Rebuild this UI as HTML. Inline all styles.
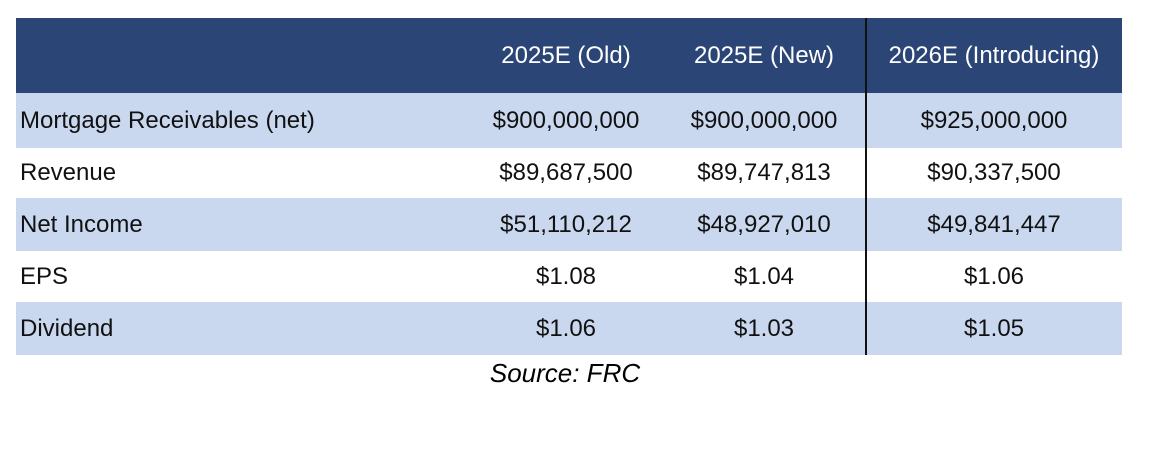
<!DOCTYPE html>
<html><head><meta charset="utf-8"><style>
body{margin:0;width:1176px;height:450px;background:#fff;position:relative;font-family:"Liberation Sans",Arial,sans-serif;overflow:hidden}
.r{position:absolute;left:16px;width:1106px}
.c{position:absolute;top:0;height:100%;display:flex;align-items:center;font-size:24px;color:#111;white-space:nowrap}
.hd .c{color:#fff}
.l{left:4px}
.m1,.m2,.m3{justify-content:center;transform:translateX(-50%)}
.m1{left:550px}.m2{left:748px}.m3{left:978px}
</style></head><body>
<div class="r hd" style="top:18px;height:75px;background:#2b4676">
 <div class="c m1">2025E (Old)</div>
 <div class="c m2">2025E (New)</div>
 <div class="c m3">2026E (Introducing)</div>
</div>
<div class="r" style="top:93px;height:55px;background:#c9d8ef">
 <div class="c l">Mortgage Receivables (net)</div><div class="c m1">$900,000,000</div><div class="c m2">$900,000,000</div><div class="c m3">$925,000,000</div>
</div>
<div class="r" style="top:148px;height:50px">
 <div class="c l">Revenue</div><div class="c m1">$89,687,500</div><div class="c m2">$89,747,813</div><div class="c m3">$90,337,500</div>
</div>
<div class="r" style="top:198px;height:53px;background:#c9d8ef">
 <div class="c l">Net Income</div><div class="c m1">$51,110,212</div><div class="c m2">$48,927,010</div><div class="c m3">$49,841,447</div>
</div>
<div class="r" style="top:251px;height:51px">
 <div class="c l">EPS</div><div class="c m1">$1.08</div><div class="c m2">$1.04</div><div class="c m3">$1.06</div>
</div>
<div class="r" style="top:302px;height:53px;background:#c9d8ef">
 <div class="c l">Dividend</div><div class="c m1">$1.06</div><div class="c m2">$1.03</div><div class="c m3">$1.05</div>
</div>
<div style="position:absolute;left:865px;top:18px;width:2px;height:337px;background:#111"></div>
<div style="position:absolute;left:0;width:1130px;top:358px;text-align:center;font-style:italic;font-size:26px;color:#000">Source: FRC</div>
</body></html>
